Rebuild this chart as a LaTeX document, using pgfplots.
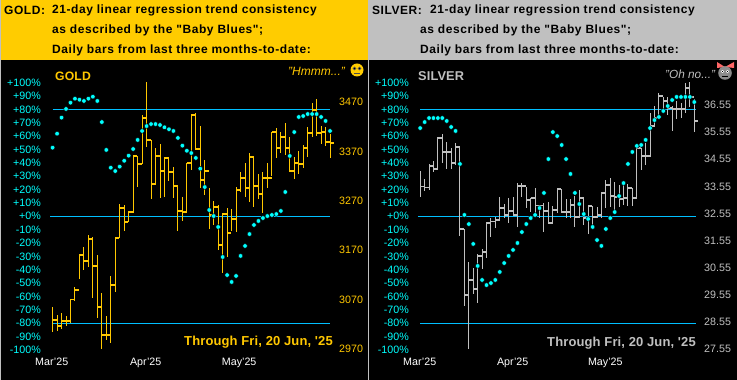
\documentclass[border=0pt]{standalone}
\usepackage{fontspec}
\setmainfont{Liberation Sans}
\newfontfamily\hdrfont[LetterSpace=4.6]{Liberation Sans}
\newfontfamily\thrufont[LetterSpace=1]{Liberation Sans}
\usepackage{pgfplots}
\usepackage{pgfplotstable}
\pgfplotsset{compat=1.18}
\definecolor{goldc}{HTML}{FFC800}
\definecolor{hdrgold}{HTML}{FFCC00}
\definecolor{silverc}{HTML}{C0C0C0}
\definecolor{linec}{HTML}{00BFFF}
\definecolor{dotc}{HTML}{00FFFF}
\pgfdeclareplotmark{closetick}{%
  \pgfsetlinewidth{1.8pt}\pgfsetbuttcap
  \pgfpathmoveto{\pgfqpoint{0pt}{0pt}}%
  \pgfpathlineto{\pgfqpoint{4.2pt}{0pt}}%
  \pgfusepathqstroke}
\pgfplotstableread{
i h l c
0 3055.1 3004.5 3028.8
1 3038.9 3006.6 3016.7
2 3043.0 3010.6 3026.8
3 3036.9 3016.7 3026.8
4 3071.3 3022.7 3070.3
5 3095.6 3067.3 3089.5
6 3162.4 3111.8 3160.4
7 3176.6 3130.0 3148.2
8 3200.9 3136.1 3192.8
9 3196.8 3073.3 3138.1
10 3160.4 3032.9 3055.1
11 3083.5 2970.1 2998.5
12 3036.9 2988.3 2998.5
13 3117.9 2982.3 3099.7
14 3194.8 3085.5 3194.8
15 3263.6 3194.8 3255.5
16 3261.6 3209.0 3227.2
17 3249.4 3227.2 3247.4
18 3360.8 3245.4 3360.8
19 3360.8 3298.0 3344.6
20 3443.7 3344.6 3437.7
21 3510.5 3379.0 3393.1
22 3393.1 3273.7 3304.1
23 3376.9 3302.1 3360.8
24 3385.0 3275.7 3330.4
25 3356.7 3277.8 3356.7
26 3356.7 3310.2 3328.4
27 3338.5 3275.7 3300.0
28 3300.0 3209.0 3249.4
29 3277.8 3229.2 3247.4
30 3346.6 3247.4 3346.6
31 3443.7 3332.4 3443.7
32 3447.8 3372.9 3374.9
33 3421.5 3296.0 3312.2
34 3352.7 3281.8 3330.4
35 3296.0 3213.0 3241.3
36 3269.7 3221.1 3257.5
37 3261.6 3170.5 3180.6
38 3245.4 3123.9 3243.4
39 3255.5 3156.3 3204.9
40 3253.5 3209.0 3233.2
41 3298.0 3206.9 3291.9
42 3328.4 3287.9 3316.2
43 3346.6 3277.8 3296.0
44 3366.8 3267.7 3358.7
45 3356.7 3257.5 3300.0
46 3324.3 3273.7 3283.8
47 3328.4 3245.4 3316.2
48 3346.6 3296.0 3316.2
49 3409.3 3320.3 3409.3
50 3417.4 3356.7 3376.9
51 3409.3 3366.8 3399.2
52 3427.5 3362.8 3376.9
53 3399.2 3328.4 3330.4
54 3358.7 3314.2 3346.6
55 3370.9 3324.3 3344.6
56 3383.0 3336.5 3376.9
57 3419.5 3358.7 3407.3
58 3468.0 3399.2 3453.9
59 3476.1 3401.2 3407.3
60 3421.5 3385.0 3409.3
61 3419.5 3381.0 3389.1
62 3405.3 3356.7 3387.1
}\goldbars
\pgfplotstableread{
i h l c
0 34.12 33.17 33.54
1 33.82 33.38 33.51
2 34.36 33.41 34.30
3 34.48 34.09 34.19
4 35.38 34.15 35.32
5 35.48 34.41 34.83
6 35.19 34.19 34.81
7 34.96 34.19 34.40
8 35.15 34.34 35.01
9 34.96 31.72 31.98
10 31.98 29.15 29.54
11 30.76 27.56 30.09
12 30.54 29.58 29.76
13 31.05 29.26 30.99
14 31.24 30.50 31.14
15 32.23 30.91 32.20
16 32.38 31.68 32.25
17 32.43 32.01 32.31
18 33.16 32.28 32.76
19 32.90 32.38 32.49
20 33.12 32.20 32.64
21 33.16 32.46 32.49
22 33.67 32.06 33.57
23 33.67 33.16 33.57
24 33.54 32.75 33.05
25 33.13 32.60 33.11
26 33.50 32.57 32.84
27 32.86 32.39 32.84
28 32.94 31.88 32.65
29 32.98 32.16 32.19
30 32.84 32.22 32.68
31 33.45 32.57 33.45
32 33.45 32.57 32.61
33 33.08 32.37 32.61
34 33.08 32.38 32.86
35 33.20 32.06 32.43
36 33.41 32.39 33.11
37 33.11 32.12 32.39
38 32.82 31.79 32.82
39 32.82 32.01 32.43
40 32.78 32.39 32.49
41 33.29 32.39 33.29
42 33.78 32.75 33.60
43 33.87 32.78 33.20
44 33.71 32.68 33.17
45 33.60 32.80 33.08
46 33.60 32.86 33.12
47 33.64 32.82 33.49
48 33.49 32.82 33.12
49 34.96 33.12 34.96
50 34.96 34.15 34.67
51 35.15 34.34 34.67
52 36.25 34.63 35.78
53 36.51 35.74 36.07
54 36.99 36.11 36.88
55 36.85 36.33 36.70
56 36.85 36.18 36.44
57 36.51 35.59 36.40
58 36.70 36.03 36.40
59 36.62 36.07 36.40
60 37.36 36.25 37.18
61 37.40 36.48 36.85
62 36.77 35.55 35.96
}\silverbars
\pgfplotstableread{
i p
0 51.4
1 61.9
2 73.9
3 80.4
4 85.1
5 88.1
6 87.3
7 86.4
8 88.1
9 89.6
10 86.4
11 70.6
12 49.7
13 36.4
14 33.9
15 37.2
16 41.6
17 45.4
18 50.4
19 57.2
20 63.9
21 67.6
22 69.1
23 69.1
24 68.4
25 66.7
26 65.2
27 63.9
28 58.7
29 52.9
30 49.1
31 47.4
32 43.7
33 35.7
34 21.9
35 4.7
36 0.2
37 -8.0
38 -30.5
39 -44.0
40 -49.2
41 -44.7
42 -29.7
43 -22.2
44 -13.3
45 -6.5
46 -3.5
47 -1.3
48 0.2
49 1.0
50 1.7
51 4.0
52 18.2
53 45.2
54 63.1
55 74.4
56 75.1
57 76.6
58 76.6
59 76.6
60 74.4
61 71.4
62 63.9
}\goldblues
\pgfplotstableread{
i p
0 66.1
1 70.6
2 73.6
3 73.6
4 73.6
5 73.6
6 71.4
7 66.9
8 63.9
9 39.2
10 1.0
11 -5.8
12 -20.7
13 -37.2
14 -47.7
15 -51.5
16 -50.0
17 -47.7
18 -41.7
19 -35.0
20 -29.7
21 -25.2
22 -20.0
23 -11.8
24 -5.8
25 -1.3
26 1.0
27 6.2
28 17.5
29 42.9
30 63.1
31 60.1
32 53.4
33 42.9
34 31.7
35 17.5
36 9.2
37 1.7
38 -2.0
39 -8.0
40 -17.8
41 -22.2
42 -9.5
43 -1.3
44 3.2
45 15.2
46 24.9
47 39.2
48 48.2
49 52.7
50 53.4
51 57.2
52 66.1
53 72.1
54 74.4
55 78.9
56 82.6
57 87.1
58 89.4
59 89.4
60 89.4
61 89.4
62 85.6
}\silverblues
\pgfplotsset{
  panel/.style={scale only axis,width=#1,height=290pt,anchor=south west,
    axis line style={draw=none},tick style={draw=none},major tick length=0pt,
    clip=false,
    tick label style={font=\fontsize{10.7}{12}\selectfont}},
  pctax/.style={ymin=-101.65,ymax=115.58,
    ytick={-100,-90,...,100},
    yticklabels={-100\%,-90\%,-80\%,-70\%,-60\%,-50\%,-40\%,-30\%,-20\%,-10\%,+0\%,+10\%,+20\%,+30\%,+40\%,+50\%,+60\%,+70\%,+80\%,+90\%,+100\%},
    ytick pos=left,yticklabel pos=left,yticklabel shift=5pt,
    yticklabel style={text=dotc,inner sep=0pt,anchor=east},
    xtick pos=bottom,xticklabel pos=bottom,xticklabel shift=6pt,
    xticklabel style={text=white,inner sep=0pt,anchor=north},
    xticklabels={Mar'25,Apr'25,May'25}},
  pxax/.style={ytick pos=right,yticklabel pos=right,yticklabel shift=3pt,
    yticklabel style={inner sep=0pt,anchor=west},xtick=\empty},
  hl/.style={linec,line width=0.9pt,forget plot},
  bars/.style={only marks,mark=closetick,color=#1,
    error bars/.cd,y dir=both,y explicit,error mark=none,
    error bar style={color=#1,line width=1pt}},
  blues/.style={only marks,mark=*,mark size=2.3pt,mark options={fill=dotc,draw=none}},
}
\begin{document}
\begin{tikzpicture}[x=1pt,y=1pt]
\path[use as bounding box] (0,0) rectangle (737,380);
\fill[silverc] (0,0) rectangle (737,380);
\fill[hdrgold] (1,320) rectangle (368,380);
\fill[black] (1,0) rectangle (368,320);
\fill[black] (369,0) rectangle (737,320);
% ---------- GOLD ----------
\begin{axis}[panel=290pt,at={(46pt,28pt)},pctax,xmin=-1.475,xmax=63.33,xtick={-0.2,20.8,41.7}]
\addplot[hl] coordinates {(0,80) (62,80)};
\addplot[hl] coordinates {(-0.5,0) (62,0)};
\addplot[hl] coordinates {(0,-80) (62,-80)};
\end{axis}
\begin{axis}[panel=290pt,at={(46pt,28pt)},pxax,xmin=-1.475,xmax=63.33,ymin=2964.1,ymax=3551,
  ytick={2970,3070,3170,3270,3370,3470},
  yticklabels={2970,3070,3170,3270,3370,3470},
  yticklabel style={text=goldc}]
\addplot[bars=goldc] table[x=i,y=c,y error plus expr=\thisrow{h}-\thisrow{c},y error minus expr=\thisrow{c}-\thisrow{l}] {\goldbars};
\end{axis}
\begin{axis}[panel=290pt,at={(46pt,28pt)},hide axis,xmin=-1.475,xmax=63.33,ymin=-101.65,ymax=115.58]
\addplot[blues] table[x=i,y=p] {\goldblues};
\end{axis}
% ---------- SILVER ----------
\begin{axis}[panel=286pt,at={(414pt,28pt)},pctax,xmin=-1.403,xmax=63.30,xtick={-0.11,20.93,41.88}]
\addplot[hl] coordinates {(0,80) (62.3,80)};
\addplot[hl] coordinates {(-0.5,0) (62.3,0)};
\addplot[hl] coordinates {(0,-80) (62.3,-80)};
\end{axis}
\begin{axis}[panel=286pt,at={(414pt,28pt)},pxax,xmin=-1.403,xmax=63.30,ymin=27.439,ymax=38.136,
  ytick={27.55,28.55,...,36.55},
  yticklabels={27.55,28.55,29.55,30.55,31.55,32.55,33.55,34.55,35.55,36.55},
  yticklabel style={text=silverc},yticklabel shift=4pt]
\addplot[bars=silverc] table[x=i,y=c,y error plus expr=\thisrow{h}-\thisrow{c},y error minus expr=\thisrow{c}-\thisrow{l}] {\silverbars};
\end{axis}
\begin{axis}[panel=286pt,at={(414pt,28pt)},hide axis,xmin=-1.403,xmax=63.30,ymin=-101.65,ymax=115.58]
\addplot[blues] table[x=i,y=p] {\silverblues};
\end{axis}
% ---------- TEXT ----------
\begin{scope}[every node/.style={inner sep=0pt,anchor=west,font=\hdrfont\bfseries\fontsize{12}{14}\selectfont,text=black}]
\node at (4,369.5) {GOLD:};
\node at (52,369.5) {21-day linear regression trend consistency};
\node at (52,350) {as described by the "Baby Blues";};
\node at (52,330) {Daily bars from last three months-to-date:};
\node at (372,369.5) {SILVER:};
\node at (430,369.5) {21-day linear regression trend consistency};
\node at (420,350) {as described by the "Baby Blues";};
\node at (420,330) {Daily bars from last three months-to-date:};
\end{scope}
\begin{scope}[every node/.style={inner sep=0pt,anchor=west}]
\node[text=goldc,font=\thrufont\bfseries\fontsize{12.2}{15}\selectfont] at (55,304) {GOLD};
\node[text=silverc,font=\thrufont\bfseries\fontsize{12.8}{15}\selectfont] at (418,304) {SILVER};
\node[text=goldc,font=\itshape\fontsize{12}{14}\selectfont] at (288,308.5) {"Hmmm..."};
\node[text=silverc,font=\itshape\fontsize{11.8}{14}\selectfont] at (665,305.5) {"Oh no..."};
\node[text=goldc,font=\thrufont\bfseries\fontsize{13}{15}\selectfont] at (184,38) {Through Fri, 20 Jun, '25};
\node[text=silverc,font=\thrufont\bfseries\fontsize{13}{15}\selectfont] at (547,37) {Through Fri, 20 Jun, '25};
\end{scope}
% smileys
\fill[hdrgold] (357,310) circle (6.5);
\draw[black!70,line width=0.6pt] (354.5,311.5) circle (1.4) (359.5,311.5) circle (1.4);
\fill[black] (354.5,311.5) circle (0.6) (359.5,311.5) circle (0.6);
\draw[black!70,line width=0.8pt] (354,306.5) -- (360,306.5);
\fill[red!60!white] (725,313) -- (717,318) -- (717,312) -- cycle;
\fill[red!60!white] (725,313) -- (734,318) -- (734,312) -- cycle;
\fill[gray!90] (725,307) circle (6.8);
\fill[white] (722.5,308.5) circle (1.6) (727.5,308.5) circle (1.6);
\fill[black] (722.5,308.5) circle (0.7) (727.5,308.5) circle (0.7);
\draw[black,line width=0.8pt] (722,303.5) -- (728,303.5);
\end{tikzpicture}
\end{document}
